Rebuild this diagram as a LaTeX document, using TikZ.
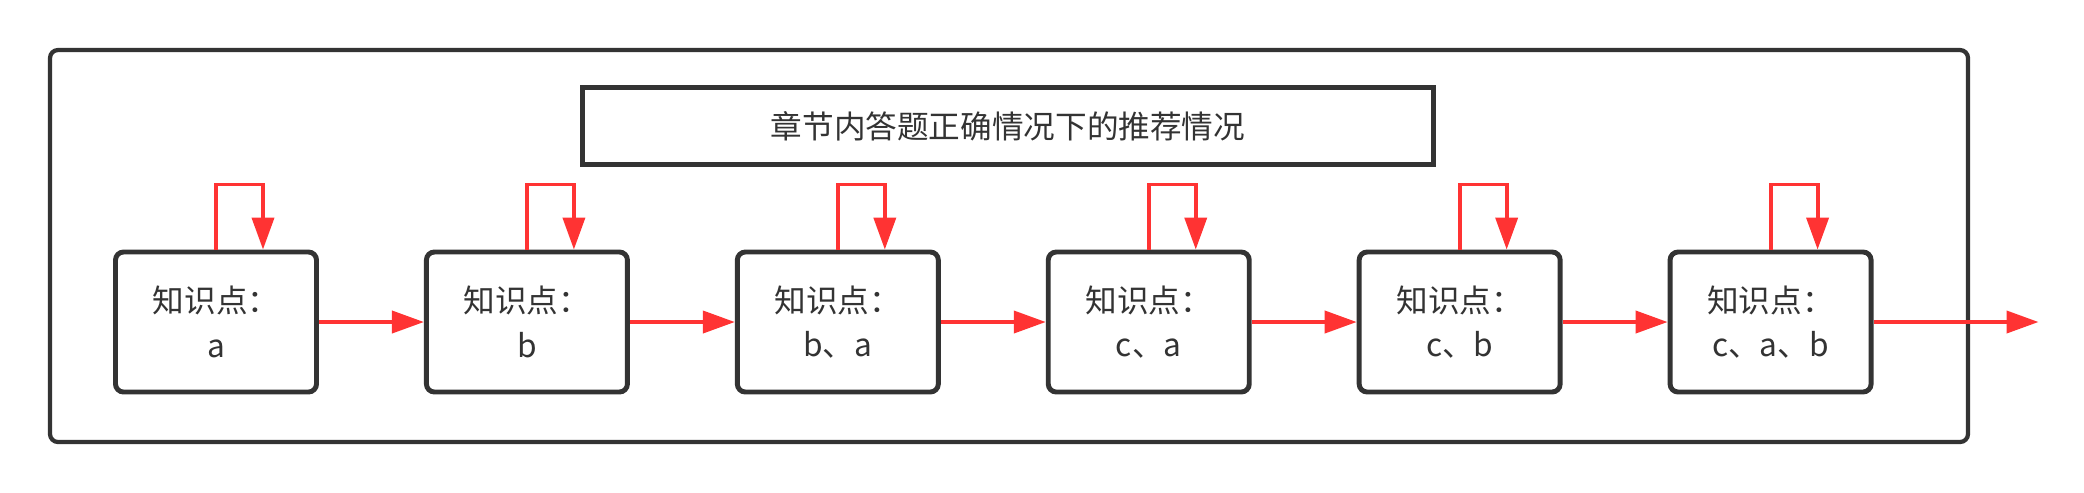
\documentclass[tikz,border=0pt]{standalone}
\usepackage{fontspec}
\newfontfamily\cjk{Noto Sans CJK SC}
\usetikzlibrary{arrows.meta, positioning}
\definecolor{ink}{HTML}{333333}
\definecolor{flowred}{HTML}{FF3333}

\begin{document}
\begin{tikzpicture}[x=0.1mm, y=-0.1mm, node distance=1.05cm,
    every node/.style={font=\cjk\fontsize{9}{12.6}\selectfont, text=ink},
    kpbox/.style={draw=ink, line width=1.4pt, rounded corners=0.8mm, minimum width=2.01cm, minimum height=1.4cm, align=center},
    flow/.style={draw=flowred, line width=1.1pt, -{Triangle[length=3.2mm, width=2.2mm]}}]
        \useasboundingbox (0,0) rectangle (2084,492);
        % frame and title
        \draw[ink, line width=1.2pt, rounded corners=0.8mm] (50,50) rectangle (1968,442);
        \node[draw=ink, line width=1.4pt, minimum width=8.51cm, minimum height=7.7mm] (title) at (1008,126) {章节内答题正确情况下的推荐情况};
        % knowledge point boxes
        \node[kpbox] (k1) at (216,322) {知识点：\\a};
        \node[kpbox, right=of k1] (k2) {知识点：\\b};
        \node[kpbox, right=of k2] (k3) {知识点：\\b、a};
        \node[kpbox, right=of k3] (k4) {知识点：\\c、a};
        \node[kpbox, right=of k4] (k5) {知识点：\\c、b};
        \node[kpbox, right=of k5] (k6) {知识点：\\c、a、b};
        \coordinate[right=1.65cm of k6.east] (out);
        \foreach \k in {1,...,6}
          \draw[flow] (k\k.north) -- ++(0,-65) -| ([xshift=4.7mm]k\k.north);
        \foreach \a/\b in {k1/k2, k2/k3, k3/k4, k4/k5, k5/k6, k6/out}
          \draw[flow] (\a) -- (\b);
      \end{tikzpicture}
\end{document}
